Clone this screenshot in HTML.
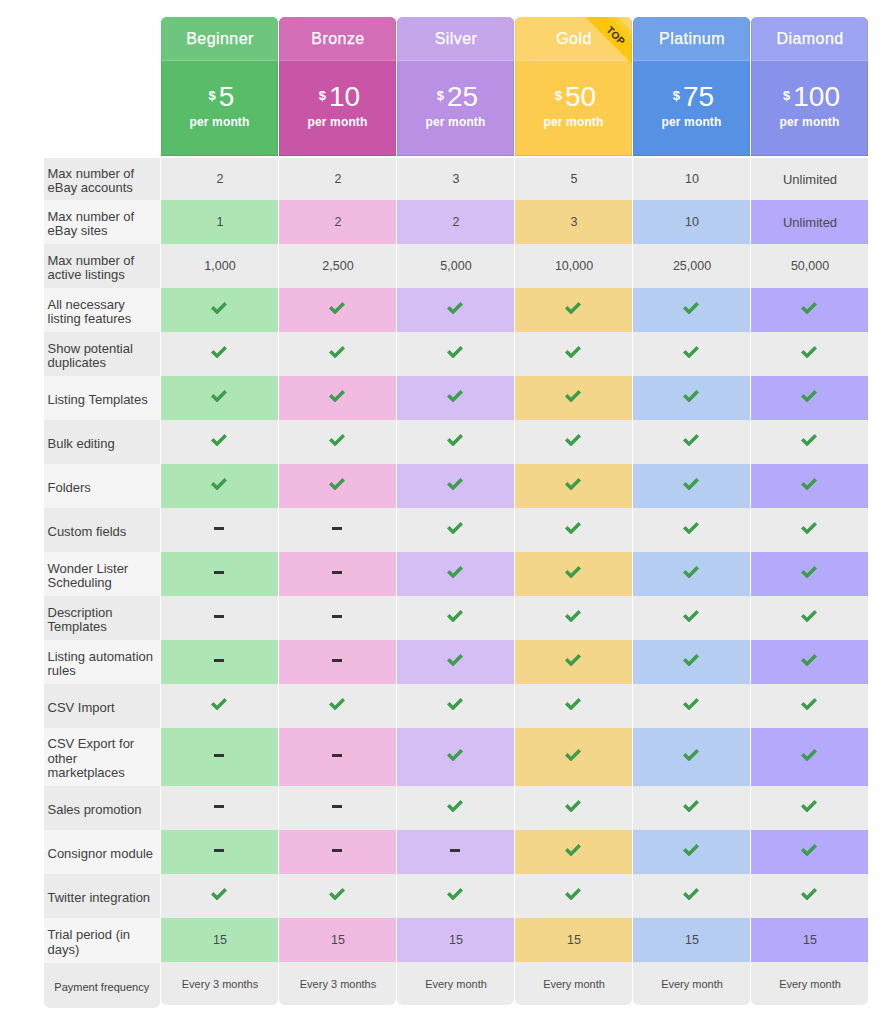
<!DOCTYPE html>
<html><head><meta charset="utf-8"><title>Pricing</title>
<style>
html,body{margin:0;padding:0;background:#fff;}
body{width:893px;height:1024px;position:relative;overflow:hidden;font-family:"Liberation Sans",sans-serif;color:#3a3a3a;}
.a{position:absolute;box-sizing:border-box;}
.hd{border-radius:6px 6px 0 0;overflow:hidden;color:#fff;text-align:center;}
.ht{position:absolute;left:0;top:0;width:100%;height:44px;line-height:44px;font-size:16px;letter-spacing:.45px;padding-left:1px;-webkit-text-stroke:.25px #fff;border-bottom:1px solid rgba(255,255,255,.18);box-sizing:border-box;}
.hp{position:absolute;left:0;top:43px;width:100%;height:96px;}
.hd:after{content:"";position:absolute;left:0;top:0;right:0;bottom:0;box-shadow:inset 0 -1px 0 rgba(0,0,0,.09),inset 1px 0 0 rgba(0,0,0,.05),inset -1px 0 0 rgba(0,0,0,.05);pointer-events:none;}
.pr{position:absolute;left:0;width:100%;top:22px;font-size:28px;line-height:30px;padding-left:4px;box-sizing:border-box;}
.pr sup{font-size:13px;font-weight:bold;vertical-align:6px;line-height:0;margin-right:3px;}
.pm{position:absolute;left:0;width:100%;top:54px;font-size:12px;font-weight:bold;line-height:16px;letter-spacing:.15px;}
.lb{font-size:13px;line-height:14.4px;padding-left:4px;padding-top:4px;display:flex;align-items:center;color:#404040;}
.cl{font-size:12.5px;display:flex;align-items:center;justify-content:center;color:#4a4a4a;}
.cl span{padding-left:1px;}
.cl .u{font-size:13px;}
.ck{width:16px;height:12.5px;position:relative;top:-2px;left:-.5px;}
.ck path{fill:#3e9d4c;}
.ds{width:9.5px;height:3px;background:#333;display:block;position:relative;top:-1.5px;left:-.5px;}
.g{background:#ebebeb;} .l{background:#f5f5f5;}
.last{border-radius:0 0 6px 6px;font-size:11px;}
.rb{position:absolute;left:41.75px;top:4px;width:120px;height:22.6px;background:linear-gradient(to bottom,#fdd03a,#fcc60c 45%,#fcc60c);transform:rotate(45deg);text-align:center;}
.rb span{display:block;font-size:10px;font-weight:bold;color:#3d2f02;line-height:30px;letter-spacing:.4px;padding-left:3px;}
</style></head><body>

<div class="a hd" style="left:161px;top:17px;width:117px;height:139px;background:#58bc69"><div class="ht" style="background:#6ec67e">Beginner</div><div class="hp"><div class="pr"><sup>$</sup>5</div><div class="pm">per month</div></div></div>
<div class="a hd" style="left:279px;top:17px;width:117px;height:139px;background:#c955a6"><div class="ht" style="background:#d26db6">Bronze</div><div class="hp"><div class="pr"><sup>$</sup>10</div><div class="pm">per month</div></div></div>
<div class="a hd" style="left:397px;top:17px;width:117px;height:139px;background:#b990e3"><div class="ht" style="background:#c5a6ea">Silver</div><div class="hp"><div class="pr"><sup>$</sup>25</div><div class="pm">per month</div></div></div>
<div class="a hd" style="left:515px;top:17px;width:117px;height:139px;background:#fdcc4f"><div class="ht" style="background:#fcd46c">Gold</div><div class="hp"><div class="pr"><sup>$</sup>50</div><div class="pm">per month</div></div><div class="rb"><span>TOP</span></div></div>
<div class="a hd" style="left:633px;top:17px;width:117px;height:139px;background:#5791e4"><div class="ht" style="background:#70a1e9">Platinum</div><div class="hp"><div class="pr"><sup>$</sup>75</div><div class="pm">per month</div></div></div>
<div class="a hd" style="left:751px;top:17px;width:117px;height:139px;background:#8892ea"><div class="ht" style="background:#9ca3f1">Diamond</div><div class="hp"><div class="pr"><sup>$</sup>100</div><div class="pm">per month</div></div></div>
<div class="a lb g" style="left:43.5px;top:158px;width:116.5px;height:42px"><span>Max number of<br>eBay accounts</span></div>
<div class="a cl" style="left:161px;top:158px;width:117px;height:42px;background:#ebebeb"><span>2</span></div>
<div class="a cl" style="left:279px;top:158px;width:117px;height:42px;background:#ebebeb"><span>2</span></div>
<div class="a cl" style="left:397px;top:158px;width:117px;height:42px;background:#ebebeb"><span>3</span></div>
<div class="a cl" style="left:515px;top:158px;width:117px;height:42px;background:#ebebeb"><span>5</span></div>
<div class="a cl" style="left:633px;top:158px;width:117px;height:42px;background:#ebebeb"><span>10</span></div>
<div class="a cl" style="left:751px;top:158px;width:117px;height:42px;background:#ebebeb"><span class="u">Unlimited</span></div>
<div class="a lb l" style="left:43.5px;top:200px;width:116.5px;height:44px"><span>Max number of<br>eBay sites</span></div>
<div class="a cl" style="left:161px;top:200px;width:117px;height:44px;background:#ade5b5"><span>1</span></div>
<div class="a cl" style="left:279px;top:200px;width:117px;height:44px;background:#f1bae0"><span>2</span></div>
<div class="a cl" style="left:397px;top:200px;width:117px;height:44px;background:#d4bef3"><span>2</span></div>
<div class="a cl" style="left:515px;top:200px;width:117px;height:44px;background:#f3d68a"><span>3</span></div>
<div class="a cl" style="left:633px;top:200px;width:117px;height:44px;background:#b5cdf1"><span>10</span></div>
<div class="a cl" style="left:751px;top:200px;width:117px;height:44px;background:#b5a9fb"><span class="u">Unlimited</span></div>
<div class="a lb g" style="left:43.5px;top:244px;width:116.5px;height:44px"><span>Max number of<br>active listings</span></div>
<div class="a cl" style="left:161px;top:244px;width:117px;height:44px;background:#ebebeb"><span>1,000</span></div>
<div class="a cl" style="left:279px;top:244px;width:117px;height:44px;background:#ebebeb"><span>2,500</span></div>
<div class="a cl" style="left:397px;top:244px;width:117px;height:44px;background:#ebebeb"><span>5,000</span></div>
<div class="a cl" style="left:515px;top:244px;width:117px;height:44px;background:#ebebeb"><span>10,000</span></div>
<div class="a cl" style="left:633px;top:244px;width:117px;height:44px;background:#ebebeb"><span>25,000</span></div>
<div class="a cl" style="left:751px;top:244px;width:117px;height:44px;background:#ebebeb"><span>50,000</span></div>
<div class="a lb l" style="left:43.5px;top:288px;width:116.5px;height:44px"><span>All necessary<br>listing features</span></div>
<div class="a cl" style="left:161px;top:288px;width:117px;height:44px;background:#ade5b5"><svg class="ck" viewBox="0 0 16 12.5"><path d="M0 6.5 L2.5 4 L6 7.5 L13.5 0 L16 2.5 L6 12.5 Z"/></svg></div>
<div class="a cl" style="left:279px;top:288px;width:117px;height:44px;background:#f1bae0"><svg class="ck" viewBox="0 0 16 12.5"><path d="M0 6.5 L2.5 4 L6 7.5 L13.5 0 L16 2.5 L6 12.5 Z"/></svg></div>
<div class="a cl" style="left:397px;top:288px;width:117px;height:44px;background:#d4bef3"><svg class="ck" viewBox="0 0 16 12.5"><path d="M0 6.5 L2.5 4 L6 7.5 L13.5 0 L16 2.5 L6 12.5 Z"/></svg></div>
<div class="a cl" style="left:515px;top:288px;width:117px;height:44px;background:#f3d68a"><svg class="ck" viewBox="0 0 16 12.5"><path d="M0 6.5 L2.5 4 L6 7.5 L13.5 0 L16 2.5 L6 12.5 Z"/></svg></div>
<div class="a cl" style="left:633px;top:288px;width:117px;height:44px;background:#b5cdf1"><svg class="ck" viewBox="0 0 16 12.5"><path d="M0 6.5 L2.5 4 L6 7.5 L13.5 0 L16 2.5 L6 12.5 Z"/></svg></div>
<div class="a cl" style="left:751px;top:288px;width:117px;height:44px;background:#b5a9fb"><svg class="ck" viewBox="0 0 16 12.5"><path d="M0 6.5 L2.5 4 L6 7.5 L13.5 0 L16 2.5 L6 12.5 Z"/></svg></div>
<div class="a lb g" style="left:43.5px;top:332px;width:116.5px;height:44px"><span>Show potential<br>duplicates</span></div>
<div class="a cl" style="left:161px;top:332px;width:117px;height:44px;background:#ebebeb"><svg class="ck" viewBox="0 0 16 12.5"><path d="M0 6.5 L2.5 4 L6 7.5 L13.5 0 L16 2.5 L6 12.5 Z"/></svg></div>
<div class="a cl" style="left:279px;top:332px;width:117px;height:44px;background:#ebebeb"><svg class="ck" viewBox="0 0 16 12.5"><path d="M0 6.5 L2.5 4 L6 7.5 L13.5 0 L16 2.5 L6 12.5 Z"/></svg></div>
<div class="a cl" style="left:397px;top:332px;width:117px;height:44px;background:#ebebeb"><svg class="ck" viewBox="0 0 16 12.5"><path d="M0 6.5 L2.5 4 L6 7.5 L13.5 0 L16 2.5 L6 12.5 Z"/></svg></div>
<div class="a cl" style="left:515px;top:332px;width:117px;height:44px;background:#ebebeb"><svg class="ck" viewBox="0 0 16 12.5"><path d="M0 6.5 L2.5 4 L6 7.5 L13.5 0 L16 2.5 L6 12.5 Z"/></svg></div>
<div class="a cl" style="left:633px;top:332px;width:117px;height:44px;background:#ebebeb"><svg class="ck" viewBox="0 0 16 12.5"><path d="M0 6.5 L2.5 4 L6 7.5 L13.5 0 L16 2.5 L6 12.5 Z"/></svg></div>
<div class="a cl" style="left:751px;top:332px;width:117px;height:44px;background:#ebebeb"><svg class="ck" viewBox="0 0 16 12.5"><path d="M0 6.5 L2.5 4 L6 7.5 L13.5 0 L16 2.5 L6 12.5 Z"/></svg></div>
<div class="a lb l" style="left:43.5px;top:376px;width:116.5px;height:44px"><span>Listing Templates</span></div>
<div class="a cl" style="left:161px;top:376px;width:117px;height:44px;background:#ade5b5"><svg class="ck" viewBox="0 0 16 12.5"><path d="M0 6.5 L2.5 4 L6 7.5 L13.5 0 L16 2.5 L6 12.5 Z"/></svg></div>
<div class="a cl" style="left:279px;top:376px;width:117px;height:44px;background:#f1bae0"><svg class="ck" viewBox="0 0 16 12.5"><path d="M0 6.5 L2.5 4 L6 7.5 L13.5 0 L16 2.5 L6 12.5 Z"/></svg></div>
<div class="a cl" style="left:397px;top:376px;width:117px;height:44px;background:#d4bef3"><svg class="ck" viewBox="0 0 16 12.5"><path d="M0 6.5 L2.5 4 L6 7.5 L13.5 0 L16 2.5 L6 12.5 Z"/></svg></div>
<div class="a cl" style="left:515px;top:376px;width:117px;height:44px;background:#f3d68a"><svg class="ck" viewBox="0 0 16 12.5"><path d="M0 6.5 L2.5 4 L6 7.5 L13.5 0 L16 2.5 L6 12.5 Z"/></svg></div>
<div class="a cl" style="left:633px;top:376px;width:117px;height:44px;background:#b5cdf1"><svg class="ck" viewBox="0 0 16 12.5"><path d="M0 6.5 L2.5 4 L6 7.5 L13.5 0 L16 2.5 L6 12.5 Z"/></svg></div>
<div class="a cl" style="left:751px;top:376px;width:117px;height:44px;background:#b5a9fb"><svg class="ck" viewBox="0 0 16 12.5"><path d="M0 6.5 L2.5 4 L6 7.5 L13.5 0 L16 2.5 L6 12.5 Z"/></svg></div>
<div class="a lb g" style="left:43.5px;top:420px;width:116.5px;height:44px"><span>Bulk editing</span></div>
<div class="a cl" style="left:161px;top:420px;width:117px;height:44px;background:#ebebeb"><svg class="ck" viewBox="0 0 16 12.5"><path d="M0 6.5 L2.5 4 L6 7.5 L13.5 0 L16 2.5 L6 12.5 Z"/></svg></div>
<div class="a cl" style="left:279px;top:420px;width:117px;height:44px;background:#ebebeb"><svg class="ck" viewBox="0 0 16 12.5"><path d="M0 6.5 L2.5 4 L6 7.5 L13.5 0 L16 2.5 L6 12.5 Z"/></svg></div>
<div class="a cl" style="left:397px;top:420px;width:117px;height:44px;background:#ebebeb"><svg class="ck" viewBox="0 0 16 12.5"><path d="M0 6.5 L2.5 4 L6 7.5 L13.5 0 L16 2.5 L6 12.5 Z"/></svg></div>
<div class="a cl" style="left:515px;top:420px;width:117px;height:44px;background:#ebebeb"><svg class="ck" viewBox="0 0 16 12.5"><path d="M0 6.5 L2.5 4 L6 7.5 L13.5 0 L16 2.5 L6 12.5 Z"/></svg></div>
<div class="a cl" style="left:633px;top:420px;width:117px;height:44px;background:#ebebeb"><svg class="ck" viewBox="0 0 16 12.5"><path d="M0 6.5 L2.5 4 L6 7.5 L13.5 0 L16 2.5 L6 12.5 Z"/></svg></div>
<div class="a cl" style="left:751px;top:420px;width:117px;height:44px;background:#ebebeb"><svg class="ck" viewBox="0 0 16 12.5"><path d="M0 6.5 L2.5 4 L6 7.5 L13.5 0 L16 2.5 L6 12.5 Z"/></svg></div>
<div class="a lb l" style="left:43.5px;top:464px;width:116.5px;height:44px"><span>Folders</span></div>
<div class="a cl" style="left:161px;top:464px;width:117px;height:44px;background:#ade5b5"><svg class="ck" viewBox="0 0 16 12.5"><path d="M0 6.5 L2.5 4 L6 7.5 L13.5 0 L16 2.5 L6 12.5 Z"/></svg></div>
<div class="a cl" style="left:279px;top:464px;width:117px;height:44px;background:#f1bae0"><svg class="ck" viewBox="0 0 16 12.5"><path d="M0 6.5 L2.5 4 L6 7.5 L13.5 0 L16 2.5 L6 12.5 Z"/></svg></div>
<div class="a cl" style="left:397px;top:464px;width:117px;height:44px;background:#d4bef3"><svg class="ck" viewBox="0 0 16 12.5"><path d="M0 6.5 L2.5 4 L6 7.5 L13.5 0 L16 2.5 L6 12.5 Z"/></svg></div>
<div class="a cl" style="left:515px;top:464px;width:117px;height:44px;background:#f3d68a"><svg class="ck" viewBox="0 0 16 12.5"><path d="M0 6.5 L2.5 4 L6 7.5 L13.5 0 L16 2.5 L6 12.5 Z"/></svg></div>
<div class="a cl" style="left:633px;top:464px;width:117px;height:44px;background:#b5cdf1"><svg class="ck" viewBox="0 0 16 12.5"><path d="M0 6.5 L2.5 4 L6 7.5 L13.5 0 L16 2.5 L6 12.5 Z"/></svg></div>
<div class="a cl" style="left:751px;top:464px;width:117px;height:44px;background:#b5a9fb"><svg class="ck" viewBox="0 0 16 12.5"><path d="M0 6.5 L2.5 4 L6 7.5 L13.5 0 L16 2.5 L6 12.5 Z"/></svg></div>
<div class="a lb g" style="left:43.5px;top:508px;width:116.5px;height:44px"><span>Custom fields</span></div>
<div class="a cl" style="left:161px;top:508px;width:117px;height:44px;background:#ebebeb"><i class="ds"></i></div>
<div class="a cl" style="left:279px;top:508px;width:117px;height:44px;background:#ebebeb"><i class="ds"></i></div>
<div class="a cl" style="left:397px;top:508px;width:117px;height:44px;background:#ebebeb"><svg class="ck" viewBox="0 0 16 12.5"><path d="M0 6.5 L2.5 4 L6 7.5 L13.5 0 L16 2.5 L6 12.5 Z"/></svg></div>
<div class="a cl" style="left:515px;top:508px;width:117px;height:44px;background:#ebebeb"><svg class="ck" viewBox="0 0 16 12.5"><path d="M0 6.5 L2.5 4 L6 7.5 L13.5 0 L16 2.5 L6 12.5 Z"/></svg></div>
<div class="a cl" style="left:633px;top:508px;width:117px;height:44px;background:#ebebeb"><svg class="ck" viewBox="0 0 16 12.5"><path d="M0 6.5 L2.5 4 L6 7.5 L13.5 0 L16 2.5 L6 12.5 Z"/></svg></div>
<div class="a cl" style="left:751px;top:508px;width:117px;height:44px;background:#ebebeb"><svg class="ck" viewBox="0 0 16 12.5"><path d="M0 6.5 L2.5 4 L6 7.5 L13.5 0 L16 2.5 L6 12.5 Z"/></svg></div>
<div class="a lb l" style="left:43.5px;top:552px;width:116.5px;height:44px"><span>Wonder Lister<br>Scheduling</span></div>
<div class="a cl" style="left:161px;top:552px;width:117px;height:44px;background:#ade5b5"><i class="ds"></i></div>
<div class="a cl" style="left:279px;top:552px;width:117px;height:44px;background:#f1bae0"><i class="ds"></i></div>
<div class="a cl" style="left:397px;top:552px;width:117px;height:44px;background:#d4bef3"><svg class="ck" viewBox="0 0 16 12.5"><path d="M0 6.5 L2.5 4 L6 7.5 L13.5 0 L16 2.5 L6 12.5 Z"/></svg></div>
<div class="a cl" style="left:515px;top:552px;width:117px;height:44px;background:#f3d68a"><svg class="ck" viewBox="0 0 16 12.5"><path d="M0 6.5 L2.5 4 L6 7.5 L13.5 0 L16 2.5 L6 12.5 Z"/></svg></div>
<div class="a cl" style="left:633px;top:552px;width:117px;height:44px;background:#b5cdf1"><svg class="ck" viewBox="0 0 16 12.5"><path d="M0 6.5 L2.5 4 L6 7.5 L13.5 0 L16 2.5 L6 12.5 Z"/></svg></div>
<div class="a cl" style="left:751px;top:552px;width:117px;height:44px;background:#b5a9fb"><svg class="ck" viewBox="0 0 16 12.5"><path d="M0 6.5 L2.5 4 L6 7.5 L13.5 0 L16 2.5 L6 12.5 Z"/></svg></div>
<div class="a lb g" style="left:43.5px;top:596px;width:116.5px;height:44px"><span>Description<br>Templates</span></div>
<div class="a cl" style="left:161px;top:596px;width:117px;height:44px;background:#ebebeb"><i class="ds"></i></div>
<div class="a cl" style="left:279px;top:596px;width:117px;height:44px;background:#ebebeb"><i class="ds"></i></div>
<div class="a cl" style="left:397px;top:596px;width:117px;height:44px;background:#ebebeb"><svg class="ck" viewBox="0 0 16 12.5"><path d="M0 6.5 L2.5 4 L6 7.5 L13.5 0 L16 2.5 L6 12.5 Z"/></svg></div>
<div class="a cl" style="left:515px;top:596px;width:117px;height:44px;background:#ebebeb"><svg class="ck" viewBox="0 0 16 12.5"><path d="M0 6.5 L2.5 4 L6 7.5 L13.5 0 L16 2.5 L6 12.5 Z"/></svg></div>
<div class="a cl" style="left:633px;top:596px;width:117px;height:44px;background:#ebebeb"><svg class="ck" viewBox="0 0 16 12.5"><path d="M0 6.5 L2.5 4 L6 7.5 L13.5 0 L16 2.5 L6 12.5 Z"/></svg></div>
<div class="a cl" style="left:751px;top:596px;width:117px;height:44px;background:#ebebeb"><svg class="ck" viewBox="0 0 16 12.5"><path d="M0 6.5 L2.5 4 L6 7.5 L13.5 0 L16 2.5 L6 12.5 Z"/></svg></div>
<div class="a lb l" style="left:43.5px;top:640px;width:116.5px;height:44px"><span>Listing automation<br>rules</span></div>
<div class="a cl" style="left:161px;top:640px;width:117px;height:44px;background:#ade5b5"><i class="ds"></i></div>
<div class="a cl" style="left:279px;top:640px;width:117px;height:44px;background:#f1bae0"><i class="ds"></i></div>
<div class="a cl" style="left:397px;top:640px;width:117px;height:44px;background:#d4bef3"><svg class="ck" viewBox="0 0 16 12.5"><path d="M0 6.5 L2.5 4 L6 7.5 L13.5 0 L16 2.5 L6 12.5 Z"/></svg></div>
<div class="a cl" style="left:515px;top:640px;width:117px;height:44px;background:#f3d68a"><svg class="ck" viewBox="0 0 16 12.5"><path d="M0 6.5 L2.5 4 L6 7.5 L13.5 0 L16 2.5 L6 12.5 Z"/></svg></div>
<div class="a cl" style="left:633px;top:640px;width:117px;height:44px;background:#b5cdf1"><svg class="ck" viewBox="0 0 16 12.5"><path d="M0 6.5 L2.5 4 L6 7.5 L13.5 0 L16 2.5 L6 12.5 Z"/></svg></div>
<div class="a cl" style="left:751px;top:640px;width:117px;height:44px;background:#b5a9fb"><svg class="ck" viewBox="0 0 16 12.5"><path d="M0 6.5 L2.5 4 L6 7.5 L13.5 0 L16 2.5 L6 12.5 Z"/></svg></div>
<div class="a lb g" style="left:43.5px;top:684px;width:116.5px;height:44px"><span>CSV Import</span></div>
<div class="a cl" style="left:161px;top:684px;width:117px;height:44px;background:#ebebeb"><svg class="ck" viewBox="0 0 16 12.5"><path d="M0 6.5 L2.5 4 L6 7.5 L13.5 0 L16 2.5 L6 12.5 Z"/></svg></div>
<div class="a cl" style="left:279px;top:684px;width:117px;height:44px;background:#ebebeb"><svg class="ck" viewBox="0 0 16 12.5"><path d="M0 6.5 L2.5 4 L6 7.5 L13.5 0 L16 2.5 L6 12.5 Z"/></svg></div>
<div class="a cl" style="left:397px;top:684px;width:117px;height:44px;background:#ebebeb"><svg class="ck" viewBox="0 0 16 12.5"><path d="M0 6.5 L2.5 4 L6 7.5 L13.5 0 L16 2.5 L6 12.5 Z"/></svg></div>
<div class="a cl" style="left:515px;top:684px;width:117px;height:44px;background:#ebebeb"><svg class="ck" viewBox="0 0 16 12.5"><path d="M0 6.5 L2.5 4 L6 7.5 L13.5 0 L16 2.5 L6 12.5 Z"/></svg></div>
<div class="a cl" style="left:633px;top:684px;width:117px;height:44px;background:#ebebeb"><svg class="ck" viewBox="0 0 16 12.5"><path d="M0 6.5 L2.5 4 L6 7.5 L13.5 0 L16 2.5 L6 12.5 Z"/></svg></div>
<div class="a cl" style="left:751px;top:684px;width:117px;height:44px;background:#ebebeb"><svg class="ck" viewBox="0 0 16 12.5"><path d="M0 6.5 L2.5 4 L6 7.5 L13.5 0 L16 2.5 L6 12.5 Z"/></svg></div>
<div class="a lb l" style="left:43.5px;top:728px;width:116.5px;height:58px"><span>CSV Export for<br>other<br>marketplaces</span></div>
<div class="a cl" style="left:161px;top:728px;width:117px;height:58px;background:#ade5b5"><i class="ds"></i></div>
<div class="a cl" style="left:279px;top:728px;width:117px;height:58px;background:#f1bae0"><i class="ds"></i></div>
<div class="a cl" style="left:397px;top:728px;width:117px;height:58px;background:#d4bef3"><svg class="ck" viewBox="0 0 16 12.5"><path d="M0 6.5 L2.5 4 L6 7.5 L13.5 0 L16 2.5 L6 12.5 Z"/></svg></div>
<div class="a cl" style="left:515px;top:728px;width:117px;height:58px;background:#f3d68a"><svg class="ck" viewBox="0 0 16 12.5"><path d="M0 6.5 L2.5 4 L6 7.5 L13.5 0 L16 2.5 L6 12.5 Z"/></svg></div>
<div class="a cl" style="left:633px;top:728px;width:117px;height:58px;background:#b5cdf1"><svg class="ck" viewBox="0 0 16 12.5"><path d="M0 6.5 L2.5 4 L6 7.5 L13.5 0 L16 2.5 L6 12.5 Z"/></svg></div>
<div class="a cl" style="left:751px;top:728px;width:117px;height:58px;background:#b5a9fb"><svg class="ck" viewBox="0 0 16 12.5"><path d="M0 6.5 L2.5 4 L6 7.5 L13.5 0 L16 2.5 L6 12.5 Z"/></svg></div>
<div class="a lb g" style="left:43.5px;top:786px;width:116.5px;height:44px"><span>Sales promotion</span></div>
<div class="a cl" style="left:161px;top:786px;width:117px;height:44px;background:#ebebeb"><i class="ds"></i></div>
<div class="a cl" style="left:279px;top:786px;width:117px;height:44px;background:#ebebeb"><i class="ds"></i></div>
<div class="a cl" style="left:397px;top:786px;width:117px;height:44px;background:#ebebeb"><svg class="ck" viewBox="0 0 16 12.5"><path d="M0 6.5 L2.5 4 L6 7.5 L13.5 0 L16 2.5 L6 12.5 Z"/></svg></div>
<div class="a cl" style="left:515px;top:786px;width:117px;height:44px;background:#ebebeb"><svg class="ck" viewBox="0 0 16 12.5"><path d="M0 6.5 L2.5 4 L6 7.5 L13.5 0 L16 2.5 L6 12.5 Z"/></svg></div>
<div class="a cl" style="left:633px;top:786px;width:117px;height:44px;background:#ebebeb"><svg class="ck" viewBox="0 0 16 12.5"><path d="M0 6.5 L2.5 4 L6 7.5 L13.5 0 L16 2.5 L6 12.5 Z"/></svg></div>
<div class="a cl" style="left:751px;top:786px;width:117px;height:44px;background:#ebebeb"><svg class="ck" viewBox="0 0 16 12.5"><path d="M0 6.5 L2.5 4 L6 7.5 L13.5 0 L16 2.5 L6 12.5 Z"/></svg></div>
<div class="a lb l" style="left:43.5px;top:830px;width:116.5px;height:44px"><span>Consignor module</span></div>
<div class="a cl" style="left:161px;top:830px;width:117px;height:44px;background:#ade5b5"><i class="ds"></i></div>
<div class="a cl" style="left:279px;top:830px;width:117px;height:44px;background:#f1bae0"><i class="ds"></i></div>
<div class="a cl" style="left:397px;top:830px;width:117px;height:44px;background:#d4bef3"><i class="ds"></i></div>
<div class="a cl" style="left:515px;top:830px;width:117px;height:44px;background:#f3d68a"><svg class="ck" viewBox="0 0 16 12.5"><path d="M0 6.5 L2.5 4 L6 7.5 L13.5 0 L16 2.5 L6 12.5 Z"/></svg></div>
<div class="a cl" style="left:633px;top:830px;width:117px;height:44px;background:#b5cdf1"><svg class="ck" viewBox="0 0 16 12.5"><path d="M0 6.5 L2.5 4 L6 7.5 L13.5 0 L16 2.5 L6 12.5 Z"/></svg></div>
<div class="a cl" style="left:751px;top:830px;width:117px;height:44px;background:#b5a9fb"><svg class="ck" viewBox="0 0 16 12.5"><path d="M0 6.5 L2.5 4 L6 7.5 L13.5 0 L16 2.5 L6 12.5 Z"/></svg></div>
<div class="a lb g" style="left:43.5px;top:874px;width:116.5px;height:44px"><span>Twitter integration</span></div>
<div class="a cl" style="left:161px;top:874px;width:117px;height:44px;background:#ebebeb"><svg class="ck" viewBox="0 0 16 12.5"><path d="M0 6.5 L2.5 4 L6 7.5 L13.5 0 L16 2.5 L6 12.5 Z"/></svg></div>
<div class="a cl" style="left:279px;top:874px;width:117px;height:44px;background:#ebebeb"><svg class="ck" viewBox="0 0 16 12.5"><path d="M0 6.5 L2.5 4 L6 7.5 L13.5 0 L16 2.5 L6 12.5 Z"/></svg></div>
<div class="a cl" style="left:397px;top:874px;width:117px;height:44px;background:#ebebeb"><svg class="ck" viewBox="0 0 16 12.5"><path d="M0 6.5 L2.5 4 L6 7.5 L13.5 0 L16 2.5 L6 12.5 Z"/></svg></div>
<div class="a cl" style="left:515px;top:874px;width:117px;height:44px;background:#ebebeb"><svg class="ck" viewBox="0 0 16 12.5"><path d="M0 6.5 L2.5 4 L6 7.5 L13.5 0 L16 2.5 L6 12.5 Z"/></svg></div>
<div class="a cl" style="left:633px;top:874px;width:117px;height:44px;background:#ebebeb"><svg class="ck" viewBox="0 0 16 12.5"><path d="M0 6.5 L2.5 4 L6 7.5 L13.5 0 L16 2.5 L6 12.5 Z"/></svg></div>
<div class="a cl" style="left:751px;top:874px;width:117px;height:44px;background:#ebebeb"><svg class="ck" viewBox="0 0 16 12.5"><path d="M0 6.5 L2.5 4 L6 7.5 L13.5 0 L16 2.5 L6 12.5 Z"/></svg></div>
<div class="a lb l" style="left:43.5px;top:918px;width:116.5px;height:45px"><span>Trial period (in<br>days)</span></div>
<div class="a cl" style="left:161px;top:918px;width:117px;height:44px;background:#ade5b5"><span>15</span></div>
<div class="a cl" style="left:279px;top:918px;width:117px;height:44px;background:#f1bae0"><span>15</span></div>
<div class="a cl" style="left:397px;top:918px;width:117px;height:44px;background:#d4bef3"><span>15</span></div>
<div class="a cl" style="left:515px;top:918px;width:117px;height:44px;background:#f3d68a"><span>15</span></div>
<div class="a cl" style="left:633px;top:918px;width:117px;height:44px;background:#b5cdf1"><span>15</span></div>
<div class="a cl" style="left:751px;top:918px;width:117px;height:44px;background:#b5a9fb"><span>15</span></div>
<div class="a lb g last" style="left:43.5px;top:963px;width:116.5px;height:45px;justify-content:center;padding-left:0;padding-top:3px"><span>Payment frequency</span></div>
<div class="a cl last" style="left:161px;top:962px;width:117px;height:43px;background:#ebebeb"><span>Every 3 months</span></div>
<div class="a cl last" style="left:279px;top:962px;width:117px;height:43px;background:#ebebeb"><span>Every 3 months</span></div>
<div class="a cl last" style="left:397px;top:962px;width:117px;height:43px;background:#ebebeb"><span>Every month</span></div>
<div class="a cl last" style="left:515px;top:962px;width:117px;height:43px;background:#ebebeb"><span>Every month</span></div>
<div class="a cl last" style="left:633px;top:962px;width:117px;height:43px;background:#ebebeb"><span>Every month</span></div>
<div class="a cl last" style="left:751px;top:962px;width:117px;height:43px;background:#ebebeb"><span>Every month</span></div>
</body></html>
